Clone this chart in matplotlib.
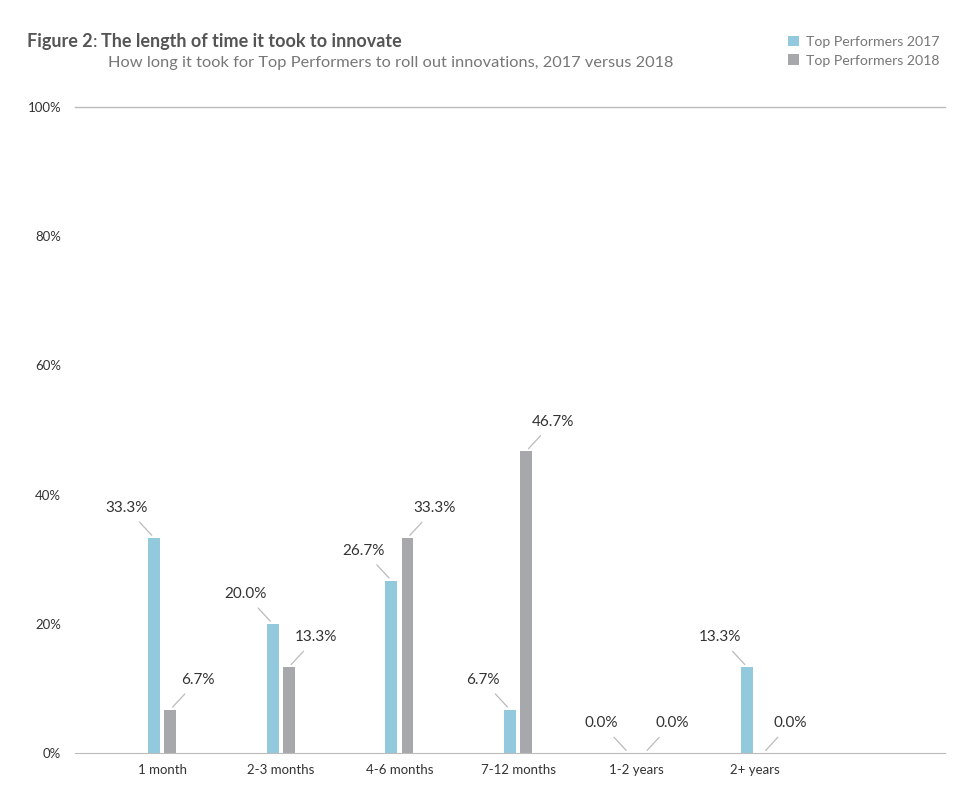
import matplotlib.pyplot as plt
import numpy as np

plt.rcParams['font.family'] = ['Lato', 'DejaVu Sans']

categories = ["1 month", "2-3 months", "4-6 months", "7-12 months", "1-2 years", "2+ years"]
top_2017 = [33.3, 20.0, 26.7, 6.7, 0.0, 13.3]
top_2018 = [6.7, 13.3, 33.3, 46.7, 0.0, 0.0]
y_ticks = [0, 20, 40, 60, 80, 100]

bleu = "#92C9DC"
gris = "#A7A8AC"
texte = "#333333"

fig = plt.figure(figsize=(9.74, 7.93), dpi=100)
ax = fig.add_axes([75 / 974, 1 - 753 / 793, 870 / 974, 646 / 793])

x = np.arange(len(categories))
w = 0.1
dx = 0.068
b1 = ax.bar(x - dx, top_2017, w, color=bleu, label="Top Performers 2017")
b2 = ax.bar(x + dx, top_2018, w, color=gris, label="Top Performers 2018")

# etiquettes avec petit trait
for xi, v in zip(x, top_2017):
    ax.annotate(f"{v:.1f}%", xy=(xi - dx - 0.02, v + 0.4), xytext=(-25, 27),
                textcoords="offset pixels", ha="center", va="center", fontsize=11, color=texte,
                arrowprops=dict(arrowstyle="-", color="#BBBBBB", lw=0.9, shrinkA=4, shrinkB=0))
for xi, v in zip(x, top_2018):
    ax.annotate(f"{v:.1f}%", xy=(xi + dx + 0.02, v + 0.4), xytext=(25, 27),
                textcoords="offset pixels", ha="center", va="center", fontsize=11, color=texte,
                arrowprops=dict(arrowstyle="-", color="#BBBBBB", lw=0.9, shrinkA=4, shrinkB=0))

ax.set_xlim(-0.735, 6.6)
ax.set_ylim(0, 100)
ax.set_xticks(x)
ax.set_xticklabels(categories, fontsize=9.5, color=texte)
ax.set_yticks(y_ticks)
ax.set_yticklabels([f"{t}%" for t in y_ticks], fontsize=9.5, color=texte)
ax.tick_params(length=0, pad=8)
ax.tick_params(axis="y", pad=10)
for s in ["left", "right", "top"]:
    ax.spines[s].set_visible(False)
ax.spines["bottom"].set_color("#BBBBBB")
ax.axhline(100, color="#BBBBBB", lw=1, clip_on=False)

# titre en trois morceaux (gras / normal / gras)
r = fig.canvas.get_renderer()
t1 = fig.text(27 / 974, 1 - 42 / 793, "Figure 2", fontsize=13, fontweight="bold", color="#555555", va="center")
bb = t1.get_window_extent(r)
t2 = fig.text(bb.x1 / 974, 1 - 42 / 793, ":", fontsize=13, color="#555555", va="center")
bb = t2.get_window_extent(r)
fig.text((bb.x1 + 4) / 974, 1 - 42 / 793, "The length of time it took to innovate", fontsize=13,
         fontweight="bold", color="#555555", va="center")
fig.text(108 / 974, 1 - 63 / 793, "How long it took for Top Performers to roll out innovations, 2017 versus 2018",
         fontsize=11.8, color="#777777", va="center")

fig.legend(handles=[b1, b2], loc="upper left", bbox_to_anchor=(778 / 974, 1 - 26 / 793),
           frameon=False, fontsize=10.2, handlelength=0.75, handleheight=0.75, handletextpad=0.5,
           labelspacing=0.45, labelcolor="#777777", borderpad=0.2)

fig.savefig("out.png", dpi=100)
